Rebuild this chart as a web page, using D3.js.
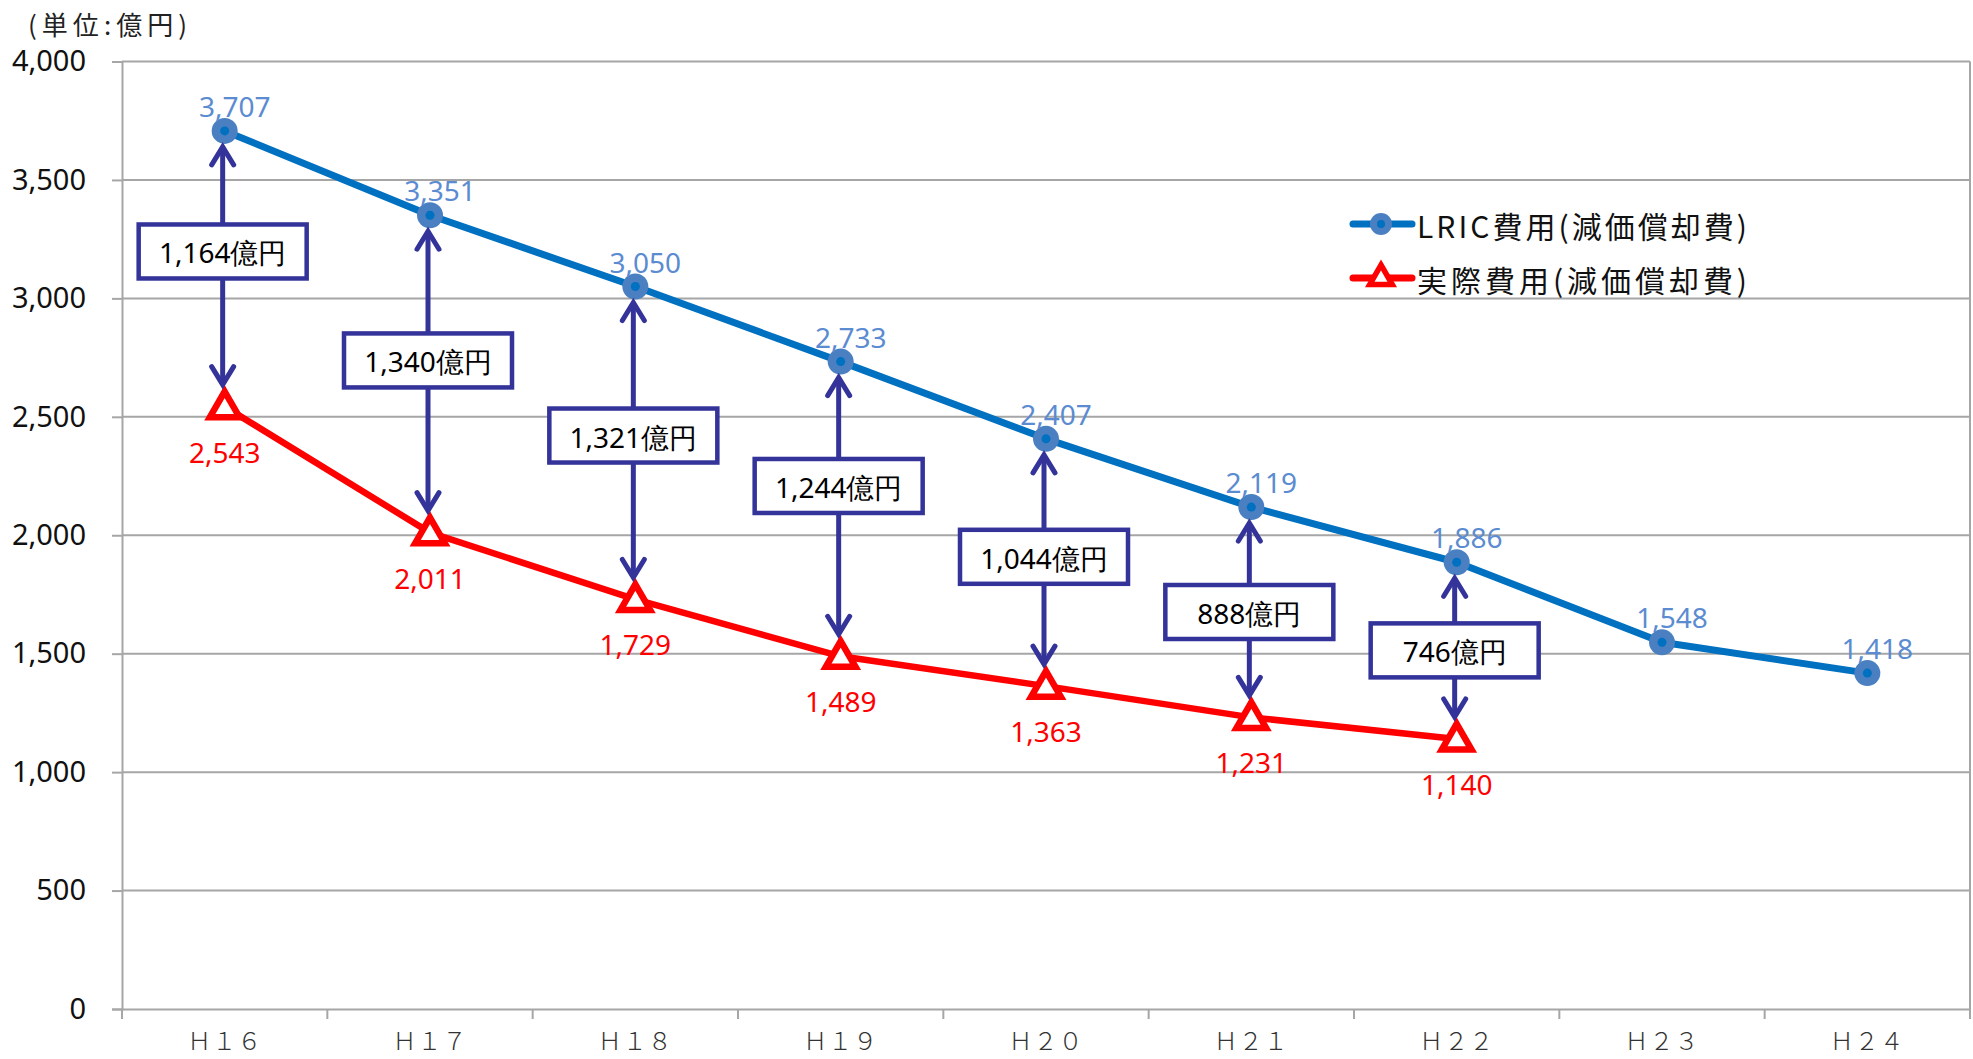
<!DOCTYPE html>
<html><head><meta charset="utf-8">
<script src="https://cdn.jsdelivr.net/npm/d3@7"></script>
<style>
html,body{margin:0;padding:0;background:#fff;}
svg{display:block;}
</style></head>
<body>
<svg id="chart" width="1973" height="1059"></svg>
<script>
const categories = ["Ｈ１６","Ｈ１７","Ｈ１８","Ｈ１９","Ｈ２０","Ｈ２１","Ｈ２２","Ｈ２３","Ｈ２４"];
const lricValues = [3707, 3351, 3050, 2733, 2407, 2119, 1886, 1548, 1418];
const actualValues = [2543, 2011, 1729, 1489, 1363, 1231, 1140];
const diffLabels = ["1,164億円","1,340億円","1,321億円","1,244億円","1,044億円","888億円","746億円"];
const diffBoxValues = [3198, 2738, 2421, 2208, 1909, 1676, 1514];
const yTicks = [0, 500, 1000, 1500, 2000, 2500, 3000, 3500, 4000];
const seriesNames = ["LRIC費用(減価償却費)", "実際費用(減価償却費)"];
const unitLabel = "(単位:億円)";

const svg = d3.select("#chart");
const pLeft = 122, pRight = 1970, pTop = 61.5, pBottom = 1009;
const x = d3.scaleBand().domain(categories).range([pLeft, pRight]).padding(0);
const y = d3.scaleLinear().domain([0, 4000]).range([pBottom, pTop]);
const cx = c => x(c) + x.bandwidth() / 2;

const numFont = "'Noto Sans', 'Open Sans', sans-serif";
const jpFont = "'Noto Sans CJK JP', 'Noto Sans', sans-serif";
const gridColor = "#a6a6a6";
const blue = "#0070C0", blueMarker = "#4a7fc1", blueLabel = "#5b8bd0";
const red = "#FF0000";
const navy = "#333399";

// gridlines
svg.append("g").selectAll("line").data(yTicks.filter(d => d > 0)).join("line")
  .attr("x1", pLeft).attr("x2", pRight)
  .attr("y1", d => y(d)).attr("y2", d => y(d))
  .attr("stroke", gridColor).attr("stroke-width", 2);

// right border
svg.append("line").attr("x1", pRight).attr("x2", pRight).attr("y1", pTop).attr("y2", pBottom)
  .attr("stroke", gridColor).attr("stroke-width", 2);

// y axis
const yAxis = svg.append("g").attr("transform", `translate(${pLeft},0)`)
  .call(d3.axisLeft(y).tickValues(yTicks).tickFormat(d3.format(",")).tickSize(10).tickPadding(26));
yAxis.select(".domain").attr("stroke", gridColor).attr("stroke-width", 2);
yAxis.selectAll(".tick line").attr("stroke", gridColor).attr("stroke-width", 2);
yAxis.selectAll(".tick text").attr("font-family", numFont).attr("font-size", 29).attr("fill", "#111");

// x axis
const xAxis = svg.append("g").attr("transform", `translate(0,${pBottom})`)
  .call(d3.axisBottom(x).tickSize(0).tickPadding(24));
xAxis.select(".domain").attr("stroke", gridColor).attr("stroke-width", 2);
xAxis.selectAll(".tick text").attr("font-family", jpFont).attr("font-size", 24)
  .attr("fill", "#333").attr("letter-spacing", 1).attr("font-weight", 300);
// boundary ticks
svg.append("g").selectAll("line").data(categories.concat([null])).join("line")
  .attr("x1", (d, i) => i < categories.length ? x(d) : pRight)
  .attr("x2", (d, i) => i < categories.length ? x(d) : pRight)
  .attr("y1", pBottom).attr("y2", pBottom + 10)
  .attr("stroke", gridColor).attr("stroke-width", 2);

// unit label
svg.append("text").attr("x", 28).attr("y", 23).attr("dominant-baseline", "central")
  .attr("font-family", jpFont).attr("font-size", 26).attr("fill", "#222")
  .attr("textLength", 159).attr("lengthAdjust", "spacing").text(unitLabel);

// lines
const lineGen = d3.line().x((d, i) => cx(categories[i])).y(d => y(d));
svg.append("path").datum(actualValues).attr("d", lineGen)
  .attr("fill", "none").attr("stroke", red).attr("stroke-width", 6.5).attr("stroke-linejoin", "round");
svg.append("path").datum(lricValues).attr("d", lineGen)
  .attr("fill", "none").attr("stroke", blue).attr("stroke-width", 7).attr("stroke-linejoin", "round");

// markers
const tri = d3.symbol().type(d3.symbolTriangle).size(380);
svg.append("g").selectAll("path").data(actualValues).join("path")
  .attr("d", tri)
  .attr("transform", (d, i) => `translate(${cx(categories[i])},${y(d) + 2})`)
  .attr("fill", "#fff").attr("stroke", red).attr("stroke-width", 6.5).attr("stroke-linejoin", "miter");
const mk = svg.append("g").selectAll("g").data(lricValues).join("g")
  .attr("transform", (d, i) => `translate(${cx(categories[i])},${y(d)})`);
mk.append("circle").attr("r", 13).attr("fill", blueMarker);
mk.append("circle").attr("r", 4.5).attr("fill", blue);

// arrows and boxes
function arrowHead(g, xx, yy, dir) {
  g.append("path")
    .attr("d", `M${xx - 11},${yy + dir * 18}L${xx},${yy}L${xx + 11},${yy + dir * 18}`)
    .attr("fill", "none").attr("stroke", navy).attr("stroke-width", 5)
    .attr("stroke-linecap", "round").attr("stroke-linejoin", "miter");
}
const ann = svg.append("g");
diffLabels.forEach((lab, i) => {
  const xx = cx(categories[i]) - 2;
  const y1 = y(lricValues[i]) + 16;
  const y2 = y(actualValues[i]) - 22;
  ann.append("line").attr("x1", xx).attr("x2", xx).attr("y1", y1 + 2).attr("y2", y2 - 2)
    .attr("stroke", navy).attr("stroke-width", 5);
  arrowHead(ann, xx, y1, 1);
  arrowHead(ann, xx, y2, -1);
  const by = y(diffBoxValues[i]);
  ann.append("rect").attr("x", xx - 84).attr("y", by - 27).attr("width", 168).attr("height", 54)
    .attr("fill", "#fff").attr("stroke", navy).attr("stroke-width", 4.5);
  ann.append("text").attr("x", xx).attr("y", by + 1).attr("text-anchor", "middle")
    .attr("dominant-baseline", "central").attr("font-family", numFont)
    .attr("font-size", 28).attr("fill", "#000").text(lab);
});

// data labels
svg.append("g").selectAll("text").data(lricValues).join("text")
  .attr("x", (d, i) => cx(categories[i]) + 10).attr("y", d => y(d) - 25)
  .attr("text-anchor", "middle").attr("dominant-baseline", "central")
  .attr("font-family", numFont).attr("font-size", 28).attr("fill", blueLabel)
  .text(d => d3.format(",")(d));
svg.append("g").selectAll("text").data(actualValues).join("text")
  .attr("x", (d, i) => cx(categories[i])).attr("y", d => y(d) + 45)
  .attr("text-anchor", "middle").attr("dominant-baseline", "central")
  .attr("font-family", numFont).attr("font-size", 28).attr("fill", red)
  .text(d => d3.format(",")(d));

// legend
const lg = svg.append("g").attr("transform", "translate(1353,224)");
lg.append("line").attr("x1", 0).attr("x2", 59).attr("y1", 0).attr("y2", 0)
  .attr("stroke", blue).attr("stroke-width", 7).attr("stroke-linecap", "round");
lg.append("circle").attr("cx", 28).attr("cy", 0).attr("r", 11).attr("fill", blueMarker);
lg.append("circle").attr("cx", 28).attr("cy", 0).attr("r", 4).attr("fill", blue);
lg.append("text").attr("x", 64).attr("y", 1).attr("dominant-baseline", "central")
  .attr("font-family", jpFont).attr("font-size", 30)
  .attr("textLength", 330).attr("lengthAdjust", "spacing")
  .attr("fill", "#111").text(seriesNames[0]);
const lg2 = svg.append("g").attr("transform", "translate(1353,278)");
lg2.append("line").attr("x1", 0).attr("x2", 59).attr("y1", 0).attr("y2", 0)
  .attr("stroke", red).attr("stroke-width", 7).attr("stroke-linecap", "round");
lg2.append("path").attr("d", d3.symbol().type(d3.symbolTriangle).size(220))
  .attr("transform", "translate(28,0)")
  .attr("fill", "#fff").attr("stroke", red).attr("stroke-width", 5.5);
lg2.append("text").attr("x", 64).attr("y", 1).attr("dominant-baseline", "central")
  .attr("font-family", jpFont).attr("font-size", 30)
  .attr("textLength", 330).attr("lengthAdjust", "spacing")
  .attr("fill", "#111").text(seriesNames[1]);
</script>
</body></html>
